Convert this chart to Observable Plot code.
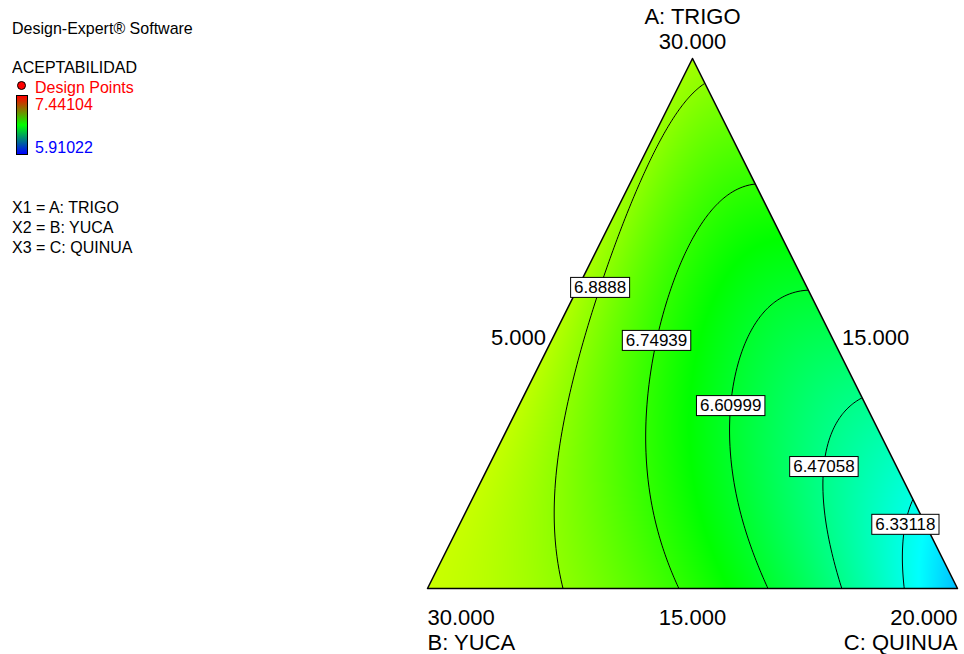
<!DOCTYPE html>
<html><head><meta charset="utf-8">
<script src="https://cdn.jsdelivr.net/npm/d3@7"></script>
<script src="https://cdn.jsdelivr.net/npm/@observablehq/plot@0.6"></script>
<style>
body{margin:0;background:#fff;}
#wrap{position:relative;width:964px;height:654px;overflow:hidden;font-family:"Liberation Sans",Arial,sans-serif;}
.leg{position:absolute;left:12px;font-size:16px;white-space:nowrap;line-height:1;transform:scaleY(1.05);transform-origin:0 0;}
</style></head><body><div id="wrap"></div>
<script>
// Response: ACEPTABILIDAD, contour levels shown on the plot
const levels = [6.33118, 6.47058, 6.60999, 6.74939, 6.8888];
const colorMin = 5.91022, colorMax = 7.44104;
const rampColors = ["#0000ff","#00ffff","#00ff00","#ffff00","#ff0000"];
const barColors = ["#ff0000","#00ff00","#0000ff"];
// height (A fraction) at which each contour label sits
const labelHeights = [0.121, 0.230, 0.345, 0.468, 0.568];
// fitted response-surface model, in pseudo-components a (TRIGO) and c (QUINUA): sum coef * a^i * c^j
const termA = [0,0,0,0,0,1,1,1,1,2,2,2,3,3,4];
const termC = [0,1,2,3,4,0,1,2,3,0,1,2,0,1,0];
const coef  = [6.977658,-0.139156,-0.969847,0.705115,-0.381567,-0.017188,-1.144250,-1.871532,2.439519,0.114157,-3.502448,6.478598,-0.676169,4.306877,0.525906];
// axis texts
const vertexNames = ["A: TRIGO","B: YUCA","C: QUINUA"];
const vertexValues = ["30.000","30.000","20.000"];
const edgeValues = ["5.000","15.000","15.000"];
const factorLines = ["X1 = A: TRIGO","X2 = B: YUCA","X3 = C: QUINUA"];

function model(a,c){let s=0;for(let k=0;k<coef.length;k++)s+=coef[k]*a**termA[k]*c**termC[k];return s;}
const f = (X,Y) => model(Y, X - Y/2);
const inside = (X,Y) => Y>=-0.002 && X - Y/2 >= -0.002 && 1 - Y - (X - Y/2) >= -0.002;
const colorDomain = rampColors.map((_,i)=>colorMin + (colorMax-colorMin)*i/(rampColors.length-1));

const vertices=[{name:vertexNames[0],value:vertexValues[0],X:0.5,Y:1},{name:vertexNames[1],value:vertexValues[1],X:0,Y:0},{name:vertexNames[2],value:vertexValues[2],X:1,Y:0}];
const outline=[{X:0,Y:0},{X:0.5,Y:1},{X:1,Y:0},{X:0,Y:0}];
const maskL=[{X:0,Y:0},{X:0.5,Y:1},{X:0,Y:1.2},{X:-0.2,Y:1.2},{X:-0.2,Y:0}];
const maskR=[{X:1,Y:0},{X:0.5,Y:1},{X:1,Y:1.2},{X:1.2,Y:1.2},{X:1.2,Y:0}];
const edgeMid=[{t:edgeValues[0],X:0.25,Y:0.5,side:"L"},{t:edgeValues[1],X:0.75,Y:0.5,side:"R"},{t:edgeValues[2],X:0.5,Y:0,side:"B"}];

// place each label on its own contour, at its height
const labels = levels.map((lv,i)=>{const Y=labelHeights[i];const X0=Y/2,X1=1-Y/2;let prev=null,Xf=(X0+X1)/2;for(let k=0;k<=2000;k++){const X=X0+(X1-X0)*k/2000;const v=f(X,Y)-lv;if(prev!==null&&prev>0&&v<=0){Xf=X;break;}prev=v;}return {text:String(lv),X:Xf,Y};});

const fnt = "Liberation Sans, Arial, sans-serif";
const plot = Plot.plot({
  width:964,height:654,marginLeft:427,marginRight:7,marginTop:58,marginBottom:66,
  x:{domain:[0,1],axis:null},y:{domain:[0,1],axis:null},
  color:{type:"linear",domain:colorDomain,range:rampColors,interpolate:"rgb"},
  style:{fontFamily:fnt,background:"transparent",overflow:"visible"},
  marks:[
    Plot.raster({fill:(X,Y)=>inside(X,Y)?f(X,Y):NaN,x1:0,x2:1,y1:0,y2:1,pixelSize:1}),
    Plot.contour({value:f,x1:0,x2:1,y1:0,y2:1,pixelSize:1,thresholds:levels,fill:"none",stroke:"black",strokeWidth:1}),
    Plot.line(maskL,{x:"X",y:"Y",fill:"white",stroke:"white",strokeWidth:1}),
    Plot.line(maskR,{x:"X",y:"Y",fill:"white",stroke:"white",strokeWidth:1}),
    Plot.line(outline,{x:"X",y:"Y",stroke:"black",strokeWidth:1.5}),
    Plot.text(labels,{x:"X",y:"Y",text:"text",fontSize:17,fill:"black",ariaDescription:"clabels"}),
    Plot.text(vertices.slice(0,1),{x:"X",y:"Y",text:"value",fontSize:22,dy:-17}),
    Plot.text(vertices.slice(0,1),{x:"X",y:"Y",text:"name",fontSize:22,dy:-42}),
    Plot.text(vertices.slice(1,2),{x:"X",y:"Y",text:"value",fontSize:22,dy:29,textAnchor:"start"}),
    Plot.text(vertices.slice(1,2),{x:"X",y:"Y",text:"name",fontSize:22,dy:54,textAnchor:"start"}),
    Plot.text(vertices.slice(2,3),{x:"X",y:"Y",text:"value",fontSize:22,dy:29,textAnchor:"end"}),
    Plot.text(vertices.slice(2,3),{x:"X",y:"Y",text:"name",fontSize:22,dy:54,textAnchor:"end"}),
    Plot.text(edgeMid.filter(d=>d.side==="L"),{x:"X",y:"Y",text:"t",fontSize:22,dx:-14,dy:14,textAnchor:"end"}),
    Plot.text(edgeMid.filter(d=>d.side==="R"),{x:"X",y:"Y",text:"t",fontSize:22,dx:17,dy:14,textAnchor:"start"}),
    Plot.text(edgeMid.filter(d=>d.side==="B"),{x:"X",y:"Y",text:"t",fontSize:22,dy:29})
  ]
});
const wrap=document.getElementById("wrap");
plot.style.position="absolute";plot.style.left="0";plot.style.top="0";
wrap.appendChild(plot);
// white boxes with black border behind the contour labels
plot.querySelectorAll('g[aria-description="clabels"] text').forEach(t=>{const b=t.getBBox();const r=document.createElementNS("http://www.w3.org/2000/svg","rect");r.setAttribute("x",b.x-3.5);r.setAttribute("y",b.y-0.5);r.setAttribute("width",b.width+7);r.setAttribute("height",b.height+1);r.setAttribute("fill","white");r.setAttribute("stroke","black");r.setAttribute("stroke-width","1");if(t.getAttribute("transform"))r.setAttribute("transform",t.getAttribute("transform"));t.parentNode.insertBefore(r,t);});

// legend (left side)
const legendItems=[
 {t:"Design-Expert® Software",top:20,color:"black"},
 {t:"ACEPTABILIDAD",top:59,color:"black"},
 {t:"Design Points",top:78.5,color:"red",left:35},
 {t:colorMax.toFixed(5),top:96,color:"red",left:35},
 {t:colorMin.toFixed(5),top:139,color:"blue",left:35},
 {t:factorLines[0],top:199,color:"black"},
 {t:factorLines[1],top:219,color:"black"},
 {t:factorLines[2],top:239,color:"black"}
];
for(const it of legendItems){const d=document.createElement("div");d.className="leg";d.textContent=it.t;d.style.top=it.top+"px";d.style.color=it.color;if(it.left)d.style.left=it.left+"px";wrap.appendChild(d);}
const dot=document.createElement("div");Object.assign(dot.style,{position:"absolute",left:"16.5px",top:"81px",width:"7px",height:"7px",borderRadius:"50%",background:"red",border:"1px solid black"});wrap.appendChild(dot);
const bar=document.createElement("div");Object.assign(bar.style,{position:"absolute",left:"16px",top:"95px",width:"10px",height:"58px",border:"1.5px solid black",background:"linear-gradient(to bottom,"+barColors.join(",")+")"});wrap.appendChild(bar);
</script></body></html>
